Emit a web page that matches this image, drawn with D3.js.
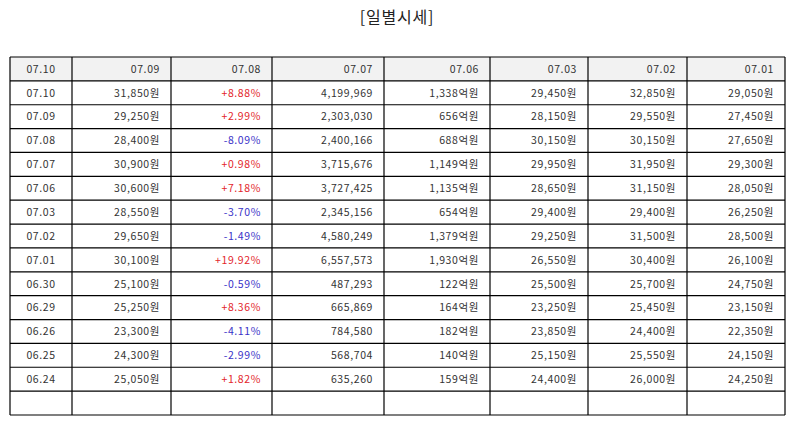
<!DOCTYPE html>
<html>
<head>
<meta charset="utf-8">
<script src="https://cdn.jsdelivr.net/npm/d3@7"></script>
<style>
  body { margin: 0; background: #fff; }
  text { font-family: "Noto Sans CJK KR", "Noto Sans", sans-serif; }
</style>
</head>
<body>
<svg id="chart" width="794" height="425"></svg>
<script>
// header labels as shown in the source table
const headers = ["07.10", "07.09", "07.08", "07.07", "07.06", "07.03", "07.02", "07.01"];

const dates = ["07.10", "07.09", "07.08", "07.07", "07.06", "07.03", "07.02", "07.01",
               "06.30", "06.29", "06.26", "06.25", "06.24"];
const closes = [31850, 29250, 28400, 30900, 30600, 28550, 29650, 30100, 25100, 25250, 23300, 24300, 25050];
const changes = [8.88, 2.99, -8.09, 0.98, 7.18, -3.70, -1.49, 19.92, -0.59, 8.36, -4.11, -2.99, 1.82];
const volumes = [4199969, 2303030, 2400166, 3715676, 3727425, 2345156, 4580249, 6557573, 487293, 665869, 784580, 568704, 635260];
const amounts = [1338, 656, 688, 1149, 1135, 654, 1379, 1930, 122, 164, 182, 140, 159];
const opens = [29450, 28150, 30150, 29950, 28650, 29400, 29250, 26550, 25500, 23250, 23850, 25150, 24400];
const highs = [32850, 29550, 30150, 31950, 31150, 29400, 31500, 30400, 25700, 25450, 24400, 25550, 26000];
const lows = [29050, 27450, 27650, 29300, 28050, 26250, 28500, 26100, 24750, 23150, 22350, 24150, 24250];

const svg = d3.select("#chart");
const fmt = d3.format(",");

// layout
const colEdges = [10, 72, 171, 272, 384, 490, 588, 687, 785];
const tableTop = 57, tableBottom = 415;
const pad = 11;

const rowCount = dates.length + 2; // header + data + one empty row
const y = d3.scaleBand().domain(d3.range(rowCount)).range([tableTop, tableBottom]);

svg.append("text")
  .attr("x", 397).attr("y", 23)
  .attr("text-anchor", "middle")
  .attr("font-size", 16)
  .attr("letter-spacing", 0.8)
  .attr("fill", "#222")
  .text("[일별시세]");

// build rows of cells
const rows = [];
rows.push(headers.map(h => ({ text: h, color: "#333" })));
dates.forEach((d, i) => {
  const c = changes[i];
  rows.push([
    { text: d, color: "#333" },
    { text: fmt(closes[i]) + "원", color: "#333" },
    { text: (c > 0 ? "+" : "") + c.toFixed(2) + "%", color: c > 0 ? "#e3262b" : "#3a32c8" },
    { text: fmt(volumes[i]), color: "#333" },
    { text: fmt(amounts[i]) + "억원", color: "#333" },
    { text: fmt(opens[i]) + "원", color: "#333" },
    { text: fmt(highs[i]) + "원", color: "#333" },
    { text: fmt(lows[i]) + "원", color: "#333" }
  ]);
});
rows.push(headers.map(() => ({ text: "", color: "#333" })));

// header background
svg.append("rect")
  .attr("x", colEdges[0]).attr("y", y(0))
  .attr("width", colEdges[colEdges.length - 1] - colEdges[0])
  .attr("height", y.bandwidth())
  .attr("fill", "#f2f2f2");

const rowG = svg.selectAll("g.row").data(rows).join("g")
  .attr("class", "row")
  .attr("transform", (d, i) => `translate(0,${y(i)})`);

rowG.selectAll("text").data(d => d).join("text")
  .attr("x", (d, j) => j === 0 ? (colEdges[0] + colEdges[1]) / 2 : colEdges[j + 1] - pad)
  .attr("y", y.bandwidth() / 2)
  .attr("dy", "0.36em")
  .attr("text-anchor", (d, j) => j === 0 ? "middle" : "end")
  .attr("font-size", 10.5)
  .attr("letter-spacing", 0.6)
  .attr("fill", d => d.color)
  .text(d => d.text);

// grid lines
const grid = svg.append("g").attr("stroke", "#000").attr("stroke-width", 1.2);
d3.range(rowCount + 1).forEach(i => {
  const yy = i < rowCount ? y(i) : tableBottom;
  grid.append("line")
    .attr("x1", colEdges[0]).attr("x2", colEdges[colEdges.length - 1])
    .attr("y1", yy).attr("y2", yy);
});
colEdges.forEach(x => {
  grid.append("line")
    .attr("x1", x).attr("x2", x)
    .attr("y1", tableTop).attr("y2", tableBottom);
});
</script>
</body>
</html>
